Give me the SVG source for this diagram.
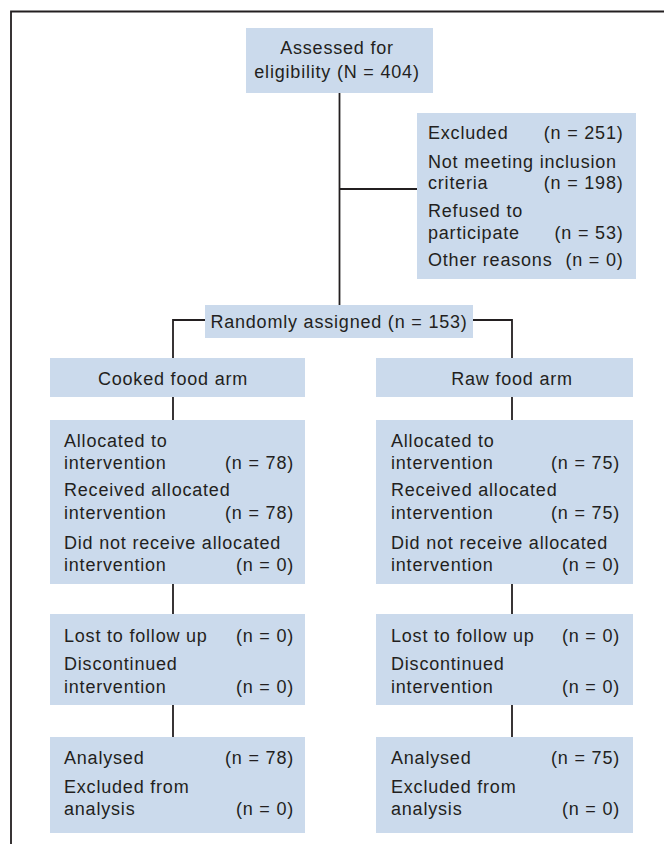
<svg xmlns="http://www.w3.org/2000/svg" width="664" height="844" viewBox="0 0 664 844">
<style>
.box{fill:#cbdaec}
.ln{fill:none;stroke:#231f20;stroke-width:1.8}
text{font-family:"Liberation Sans",Arial,sans-serif;font-size:18px;fill:#231f20;letter-spacing:0.8px}
.c{text-anchor:middle}
.r{text-anchor:end}
</style>
<rect width="664" height="844" fill="#fff"/>
<path class="ln" d="M11,844 V11.5 H664"/>
<g id="connectors">
<path class="ln" d="M339.5,93 V305"/>
<path class="ln" d="M339.5,189 H417"/>
<path class="ln" d="M205,320 H173 V358"/>
<path class="ln" d="M473,320 H512 V358"/>
<path class="ln" d="M173,397 V420"/>
<path class="ln" d="M512,397 V420"/>
<path class="ln" d="M173,584 V614"/>
<path class="ln" d="M512,584 V614"/>
<path class="ln" d="M173,705 V737"/>
<path class="ln" d="M512,705 V737"/>
</g>
<g id="assessed">
<rect class="box" x="246" y="28" width="187" height="65"/>
<text class="c" x="337" y="53.5">Assessed for</text>
<text class="c" x="337" y="77.5">eligibility (N = 404)</text>
</g>
<g id="excluded">
<rect class="box" x="417" y="113" width="219" height="166"/>
<text x="428" y="138.5">Excluded</text><text class="r" x="623.5" y="138.5">(n = 251)</text>
<text x="428" y="167.5">Not meeting inclusion</text>
<text x="428" y="189">criteria</text><text class="r" x="623.5" y="189">(n = 198)</text>
<text x="428" y="216.5">Refused to</text>
<text x="428" y="239">participate</text><text class="r" x="623.5" y="239">(n = 53)</text>
<text x="428" y="265.5">Other reasons</text><text class="r" x="623.5" y="265.5">(n = 0)</text>
</g>
<g id="randomly">
<rect class="box" x="205" y="305" width="268" height="33"/>
<text class="c" x="339" y="327.5">Randomly assigned (n = 153)</text>
</g>
<g id="cooked">
<rect class="box" x="50" y="358" width="255" height="39"/>
<text class="c" x="173" y="385">Cooked food arm</text>
</g>
<g id="raw">
<rect class="box" x="376" y="358" width="257" height="39"/>
<text class="c" x="512" y="385">Raw food arm</text>
</g>
<g id="cooked-alloc">
<rect class="box" x="50" y="420" width="255" height="164"/>
<text x="64" y="446.5">Allocated to</text>
<text x="64" y="468.5">intervention</text><text class="r" x="294" y="468.5">(n = 78)</text>
<text x="64" y="496">Received allocated</text>
<text x="64" y="518.5">intervention</text><text class="r" x="294" y="518.5">(n = 78)</text>
<text x="64" y="548.5">Did not receive allocated</text>
<text x="64" y="571">intervention</text><text class="r" x="294" y="571">(n = 0)</text>
</g>
<g id="raw-alloc">
<rect class="box" x="376" y="420" width="257" height="164"/>
<text x="391" y="446.5">Allocated to</text>
<text x="391" y="468.5">intervention</text><text class="r" x="620" y="468.5">(n = 75)</text>
<text x="391" y="496">Received allocated</text>
<text x="391" y="518.5">intervention</text><text class="r" x="620" y="518.5">(n = 75)</text>
<text x="391" y="548.5">Did not receive allocated</text>
<text x="391" y="571">intervention</text><text class="r" x="620" y="571">(n = 0)</text>
</g>
<g id="cooked-followup">
<rect class="box" x="50" y="614" width="255" height="91"/>
<text x="64" y="642">Lost to follow up</text><text class="r" x="294" y="642">(n = 0)</text>
<text x="64" y="670">Discontinued</text>
<text x="64" y="693">intervention</text><text class="r" x="294" y="693">(n = 0)</text>
</g>
<g id="raw-followup">
<rect class="box" x="376" y="614" width="257" height="91"/>
<text x="391" y="642">Lost to follow up</text><text class="r" x="620" y="642">(n = 0)</text>
<text x="391" y="670">Discontinued</text>
<text x="391" y="693">intervention</text><text class="r" x="620" y="693">(n = 0)</text>
</g>
<g id="cooked-analysed">
<rect class="box" x="50" y="737" width="255" height="96"/>
<text x="64" y="764">Analysed</text><text class="r" x="294" y="764">(n = 78)</text>
<text x="64" y="792.5">Excluded from</text>
<text x="64" y="815">analysis</text><text class="r" x="294" y="815">(n = 0)</text>
</g>
<g id="raw-analysed">
<rect class="box" x="376" y="737" width="257" height="96"/>
<text x="391" y="764">Analysed</text><text class="r" x="620" y="764">(n = 75)</text>
<text x="391" y="792.5">Excluded from</text>
<text x="391" y="815">analysis</text><text class="r" x="620" y="815">(n = 0)</text>
</g>
</svg>
